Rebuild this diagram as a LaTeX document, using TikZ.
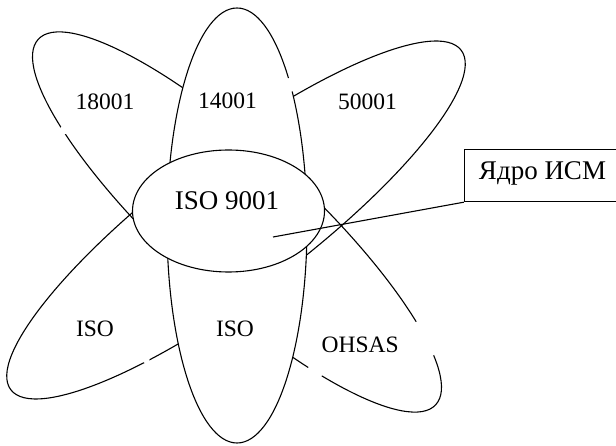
\documentclass[tikz,border=0pt]{standalone}
\usepackage{fontspec}
\setmainfont{Liberation Serif}
\begin{document}
\begin{tikzpicture}[x=1pt,y=-1pt,
  petal/.style={draw=black, line width=1.1pt},
  gap/.style={fill=white, draw=none},
  small/.style={font=\fontsize{23.5}{24}\selectfont, inner sep=0pt, anchor=base},
  big/.style={font=\fontsize{27}{28}\selectfont, inner sep=0pt, anchor=base},
  corebox/.style={draw=black, line width=1.1pt, inner sep=0pt,
    minimum width=156.4pt, minimum height=51.7pt,
    text height=20pt, text depth=11.6pt, font=\fontsize{27}{28}\selectfont},
  link/.style={draw=black, line width=1.1pt}]
\useasboundingbox (0,0) rectangle (616,446);
% diagonal ellipses
\draw[petal, rotate around={-42.6:(237,222)}] (237,222) ellipse [x radius=270, y radius=71];
\draw[petal, rotate around={37:(236,220)}] (236,220) ellipse [x radius=282, y radius=71];
% vertical ellipse
\draw[petal, fill=white] (237,225.5) ellipse [x radius=70, y radius=217.5];
% central ellipse
\draw[petal, fill=white] (228.5,211) ellipse [x radius=96, y radius=61];
% breaks in the outlines
\fill[gap] (64.2,130) circle [radius=4.5];
\fill[gap] (289.7,85) circle [radius=7];
\fill[gap] (423.3,339.3) circle [radius=19];
\fill[gap] (314.3,372.8) circle [radius=8];
\fill[gap] (146.2,360) circle [radius=3.5];
% labels
\node[small] (l18) at (105,109.3) {18001};
\node[small] (l14) at (227.5,108.8) {14001};
\node[small] (l50) at (367.5,110) {50001};
\node[big] (l9) at (227,210) {ISO 9001};
\node[small] (lisoa) at (95,336.5) {ISO};
\node[small] (lisob) at (235,336.5) {ISO};
\node[small] (lohs) at (360.2,352.7) {OHSAS};
% core box and its pointer
\node[corebox] (box) at (542.5,175.8) {Ядро ИСМ};
\coordinate (core) at (273,237);
\draw[link] (box.south west) -- (core);
\end{tikzpicture}
\end{document}
